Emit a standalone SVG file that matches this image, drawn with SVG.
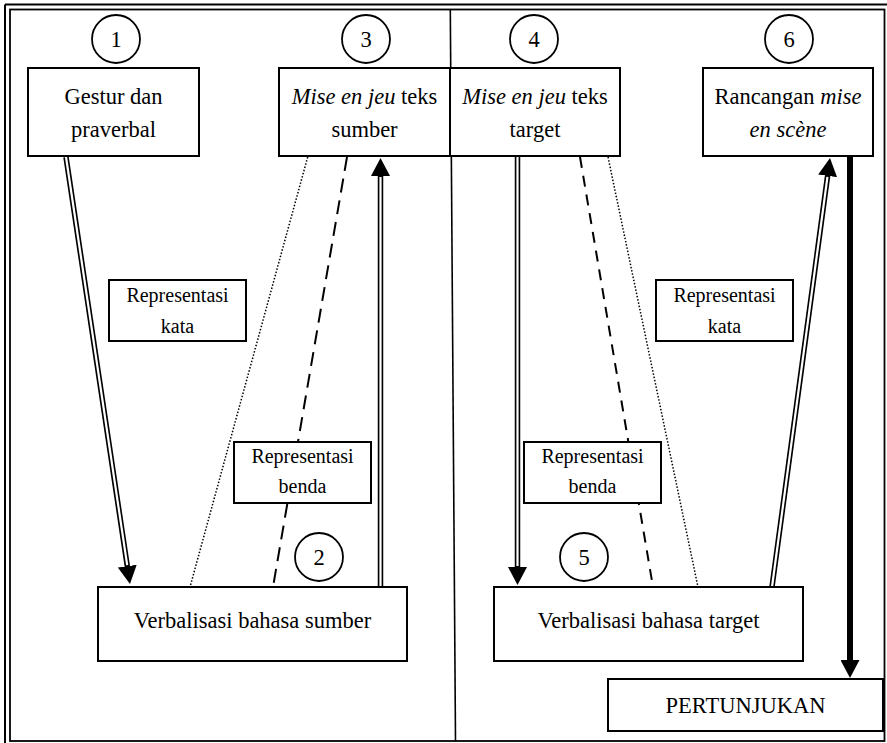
<svg xmlns="http://www.w3.org/2000/svg" width="887" height="743" viewBox="0 0 887 743">
<defs>
<style>
text{font-family:"Liberation Serif","Times New Roman",serif;fill:#000;text-anchor:middle}
.t{font-size:22.5px}
.r{font-size:20px}
.box{fill:#fff;stroke:#000;stroke-width:2}
.circ{fill:#fff;stroke:#000;stroke-width:1.8}
.frame{fill:none;stroke:#000}
.dblB{fill:none;stroke:#000;stroke-width:5.5}
.dblW{fill:none;stroke:#fff;stroke-width:2.2}
.thick{fill:none;stroke:#000;stroke-width:6}
.dot{fill:none;stroke:#000;stroke-width:1.5;stroke-dasharray:1.5 1.8}
.dash{fill:none;stroke:#000;stroke-width:2;stroke-dasharray:14 8}
.dash2{fill:none;stroke:#000;stroke-width:2;stroke-dasharray:11 8}
</style>
<marker id="arr" markerUnits="userSpaceOnUse" markerWidth="18" markerHeight="19" refX="6" refY="9.5" orient="auto">
<path d="M0,0 L18,9.5 L0,19 Z" fill="#000"/>
</marker>
</defs>

<g id="frame">
<line class="frame" x1="5" y1="4.5" x2="887" y2="4.5" stroke-width="2"/>
<line class="frame" x1="5" y1="4.5" x2="5" y2="743" stroke-width="2"/>
<rect class="frame" x="10" y="9.5" width="874.5" height="731.5" stroke-width="1.8"/>
<line class="frame" x1="450.3" y1="9.5" x2="455.5" y2="741" stroke-width="1.6"/>
</g>

<g id="connectors">
<path class="dblB" d="M66,157 L128.2,572.1" marker-end="url(#arr)"/>
<path class="dblW" d="M66,157 L127.2,565.2"/>
<path class="dblB" d="M380.5,587 L380.5,170" marker-end="url(#arr)"/>
<path class="dblW" d="M380.5,587 L380.5,177"/>
<path class="dot" d="M307.7,157 L190,587"/>
<path class="dash" d="M347,157 L273,587"/>
<path class="dblB" d="M517.5,157 L517.5,573" marker-end="url(#arr)"/>
<path class="dblW" d="M517.5,157 L517.5,566"/>
<path class="dash2" d="M580,157 L653,587"/>
<path class="dot" d="M608,157 L698,587"/>
<path class="dblB" d="M772,587 L828.4,169.9" marker-end="url(#arr)"/>
<path class="dblW" d="M772,587 L827.45,176.8"/>
<path class="thick" d="M850,157 L850,666" marker-end="url(#arr)"/>
</g>

<g id="c1"><circle class="circ" cx="116" cy="39" r="24"/><text class="t" x="116" y="46.5">1</text></g>
<g id="c3"><circle class="circ" cx="366" cy="39" r="24"/><text class="t" x="366" y="46.5">3</text></g>
<g id="c4"><circle class="circ" cx="534" cy="39" r="24"/><text class="t" x="534" y="46.5">4</text></g>
<g id="c6"><circle class="circ" cx="789" cy="39" r="24"/><text class="t" x="789" y="46.5">6</text></g>
<g id="c2"><circle class="circ" cx="319" cy="557" r="24"/><text class="t" x="319" y="564.5">2</text></g>
<g id="c5"><circle class="circ" cx="584" cy="557" r="24"/><text class="t" x="584" y="564.5">5</text></g>

<g id="n1">
<rect class="box" x="28" y="68" width="171" height="88"/>
<text class="t" x="113.5" y="104">Gestur dan</text>
<text class="t" x="113.5" y="137">praverbal</text>
</g>
<g id="n3">
<rect class="box" x="279" y="68" width="171" height="88"/>
<text class="t" x="364.5" y="104"><tspan font-style="italic">Mise en jeu</tspan> teks</text>
<text class="t" x="364.5" y="137">sumber</text>
</g>
<g id="n4">
<rect class="box" x="450" y="68" width="170" height="88"/>
<text class="t" x="535" y="104"><tspan font-style="italic">Mise en jeu</tspan> teks</text>
<text class="t" x="535" y="137">target</text>
</g>
<g id="n6">
<rect class="box" x="703" y="68" width="170" height="88"/>
<text class="t" x="788" y="104">Rancangan <tspan font-style="italic">mise</tspan></text>
<text class="t" x="788" y="137" font-style="italic">en scène</text>
</g>

<g id="rk1">
<rect class="box" x="109" y="280" width="137" height="61"/>
<text class="r" x="177.5" y="302">Representasi</text>
<text class="r" x="177.5" y="333">kata</text>
</g>
<g id="rb1">
<rect class="box" x="234" y="442" width="137" height="61"/>
<text class="r" x="302.5" y="463">Representasi</text>
<text class="r" x="302.5" y="493">benda</text>
</g>
<g id="rk2">
<rect class="box" x="656" y="280" width="137" height="61"/>
<text class="r" x="724.5" y="302">Representasi</text>
<text class="r" x="724.5" y="333">kata</text>
</g>
<g id="rb2">
<rect class="box" x="524" y="442" width="137" height="61"/>
<text class="r" x="592.5" y="463">Representasi</text>
<text class="r" x="592.5" y="493">benda</text>
</g>

<g id="n2">
<rect class="box" x="98" y="587" width="309" height="74"/>
<text class="t" x="252.5" y="628">Verbalisasi bahasa sumber</text>
</g>
<g id="n5">
<rect class="box" x="494" y="587" width="309" height="74"/>
<text class="t" x="648.5" y="628">Verbalisasi bahasa target</text>
</g>
<g id="perf">
<rect class="box" x="608" y="679" width="275" height="52"/>
<text class="t" x="745.5" y="713" font-size="23.5">PERTUNJUKAN</text>
</g>
</svg>
